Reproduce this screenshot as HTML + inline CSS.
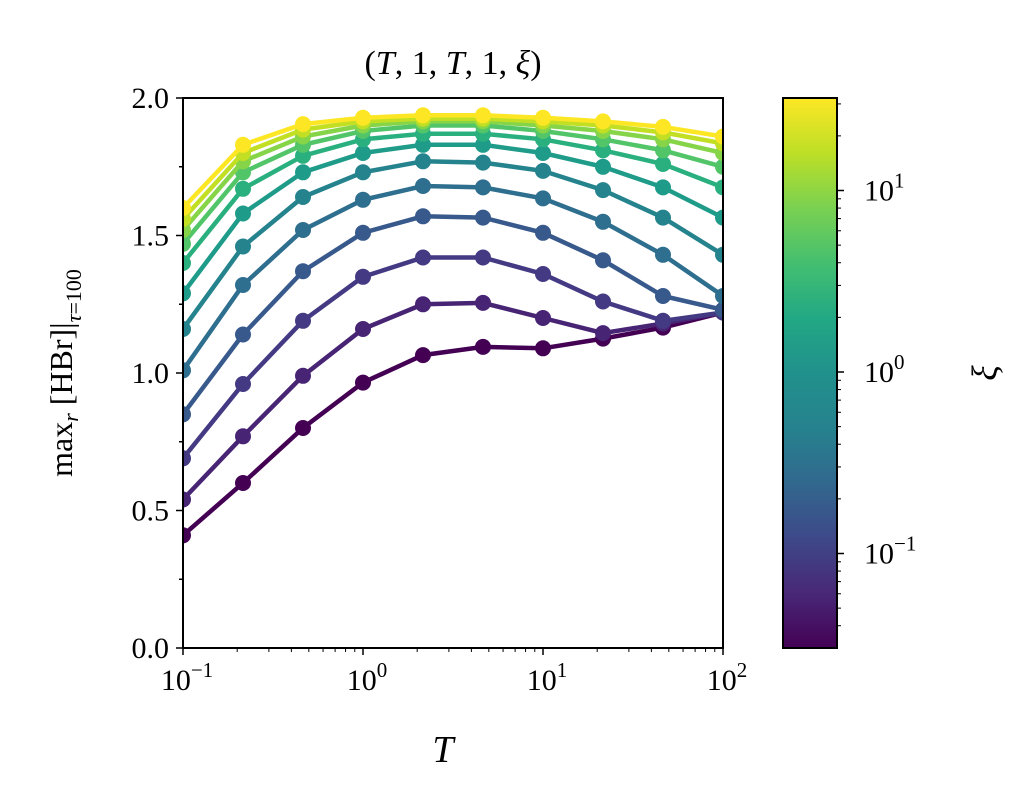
<!DOCTYPE html>
<html><head><style>
html,body{margin:0;padding:0;background:#fff;}
svg{display:block;}
text{font-family:"Liberation Serif","DejaVu Serif",serif;fill:#000;}
</style></head><body>
<svg id="s" width="1020" height="810" xmlns="http://www.w3.org/2000/svg">
<defs><linearGradient id="vg" x1="0" y1="1" x2="0" y2="0">
<stop offset="0" stop-color="#440154"/><stop offset="0.1" stop-color="#482878"/><stop offset="0.2" stop-color="#3e4989"/><stop offset="0.3" stop-color="#31688e"/><stop offset="0.4" stop-color="#26828e"/><stop offset="0.5" stop-color="#21918c"/><stop offset="0.6" stop-color="#22a884"/><stop offset="0.7" stop-color="#44bf70"/><stop offset="0.8" stop-color="#7ad151"/><stop offset="0.9" stop-color="#bddf26"/><stop offset="1" stop-color="#fde725"/>
</linearGradient></defs>
<g id="g"></g>
<text x="453" y="74" font-size="34" text-anchor="middle">(<tspan font-style="italic">T</tspan>, 1, <tspan font-style="italic">T</tspan>, 1, <tspan font-style="italic">ξ</tspan>)</text>
<text x="443" y="762" font-size="38" font-style="italic" text-anchor="middle">T</text>
<text transform="translate(72,373) rotate(-90)" font-size="32" text-anchor="middle">max<tspan font-size="22" dy="6" font-style="italic">r</tspan><tspan dy="-6"> [HBr]|</tspan><tspan font-size="22" dy="9" font-style="italic">τ</tspan><tspan font-size="22">=100</tspan></text>
<text transform="translate(997,373) rotate(-90)" font-size="36" font-style="italic" text-anchor="middle">ξ</text>
</svg>
<script>
var g=document.getElementById('g'),h='';
var X=[183,243,303,363,423,483,543,603,663,723];
var Y=v=>648-275*v;
var D=[
[0.41,0.60,0.80,0.965,1.065,1.095,1.09,1.125,1.165,1.22],
[0.54,0.77,0.99,1.16,1.25,1.255,1.20,1.145,1.18,1.22],
[0.69,0.96,1.19,1.35,1.42,1.42,1.36,1.26,1.19,1.22],
[0.85,1.14,1.37,1.51,1.57,1.565,1.51,1.41,1.28,1.23],
[1.01,1.32,1.52,1.63,1.68,1.675,1.635,1.55,1.43,1.28],
[1.16,1.46,1.64,1.73,1.77,1.765,1.735,1.665,1.565,1.43],
[1.29,1.58,1.73,1.80,1.83,1.83,1.80,1.75,1.675,1.565],
[1.40,1.67,1.79,1.85,1.87,1.87,1.85,1.81,1.76,1.675],
[1.47,1.73,1.83,1.88,1.90,1.90,1.88,1.85,1.81,1.75],
[1.52,1.77,1.86,1.90,1.915,1.915,1.90,1.88,1.85,1.80],
[1.56,1.80,1.885,1.915,1.925,1.925,1.915,1.90,1.875,1.835],
[1.60,1.83,1.905,1.928,1.937,1.937,1.928,1.915,1.895,1.86]];
var C=['#440154','#482475','#443a83','#38598c','#2e6e8e','#25838e','#1f9b8a','#2ab07f','#52c569','#86d549','#c2df23','#fde725'];
h+='<svg x="183" y="98" width="540" height="550" overflow="hidden"><g transform="translate(-183,-98)">';
D.forEach((d,i)=>{var p=d.map((v,j)=>X[j]+','+Y(v).toFixed(1)).join(' ');
h+='<polyline points="'+p+'" fill="none" stroke="'+C[i]+'" stroke-width="4.5"/>';
d.forEach((v,j)=>h+='<circle cx="'+X[j]+'" cy="'+Y(v).toFixed(1)+'" r="8" fill="'+C[i]+'"/>');});
h+='</g></svg>';
h+='<rect x="183" y="98" width="540" height="550" fill="none" stroke="#000" stroke-width="2"/>';
for(var k=0;k<=8;k++){var y=648-k*68.75,len=k%2?4:7;h+='<line x1="183" x2="'+(183-len)+'" y1="'+y+'" y2="'+y+'" stroke="#000" stroke-width="1.5"/>';
if(k%2==0)h+='<text x="169" y="'+(y+10)+'" font-size="30" text-anchor="end">'+(k*0.25).toFixed(1)+'</text>';}
for(var dcd=0;dcd<4;dcd++){var x0=183+dcd*180;h+='<line x1="'+x0+'" x2="'+x0+'" y1="648" y2="655" stroke="#000" stroke-width="1.5"/>';
h+='<text x="'+(x0+4)+'" y="690" font-size="30" text-anchor="middle">10<tspan font-size="21" dy="-13">'+(dcd-1<0?'−1':dcd-1)+'</tspan></text>';
if(dcd<3)for(var m=2;m<10;m++){var x=x0+180*Math.log10(m);h+='<line x1="'+x+'" x2="'+x+'" y1="648" y2="652" stroke="#000" stroke-width="1"/>';}}
h+='<rect x="783" y="98" width="54" height="550" fill="url(#vg)" stroke="#000" stroke-width="2"/>';
var cy=v=>372-181.5*Math.log10(v);
[[10,'1'],[1,'0'],[0.1,'−1']].forEach(a=>{var y=cy(a[0]);h+='<line x1="837" x2="844" y1="'+y+'" y2="'+y+'" stroke="#000" stroke-width="1.5"/>';
h+='<text x="864" y="'+(y+10)+'" font-size="30">10<tspan font-size="21" dy="-13">'+a[1]+'</tspan></text>';});
[0.01,0.1,1,10].forEach(b=>{for(var m=2;m<10;m++){var y=cy(b*m);if(y>98&&y<648)h+='<line x1="837" x2="841" y1="'+y+'" y2="'+y+'" stroke="#000" stroke-width="1"/>';}});
g.innerHTML=h;
</script>
</body></html>
